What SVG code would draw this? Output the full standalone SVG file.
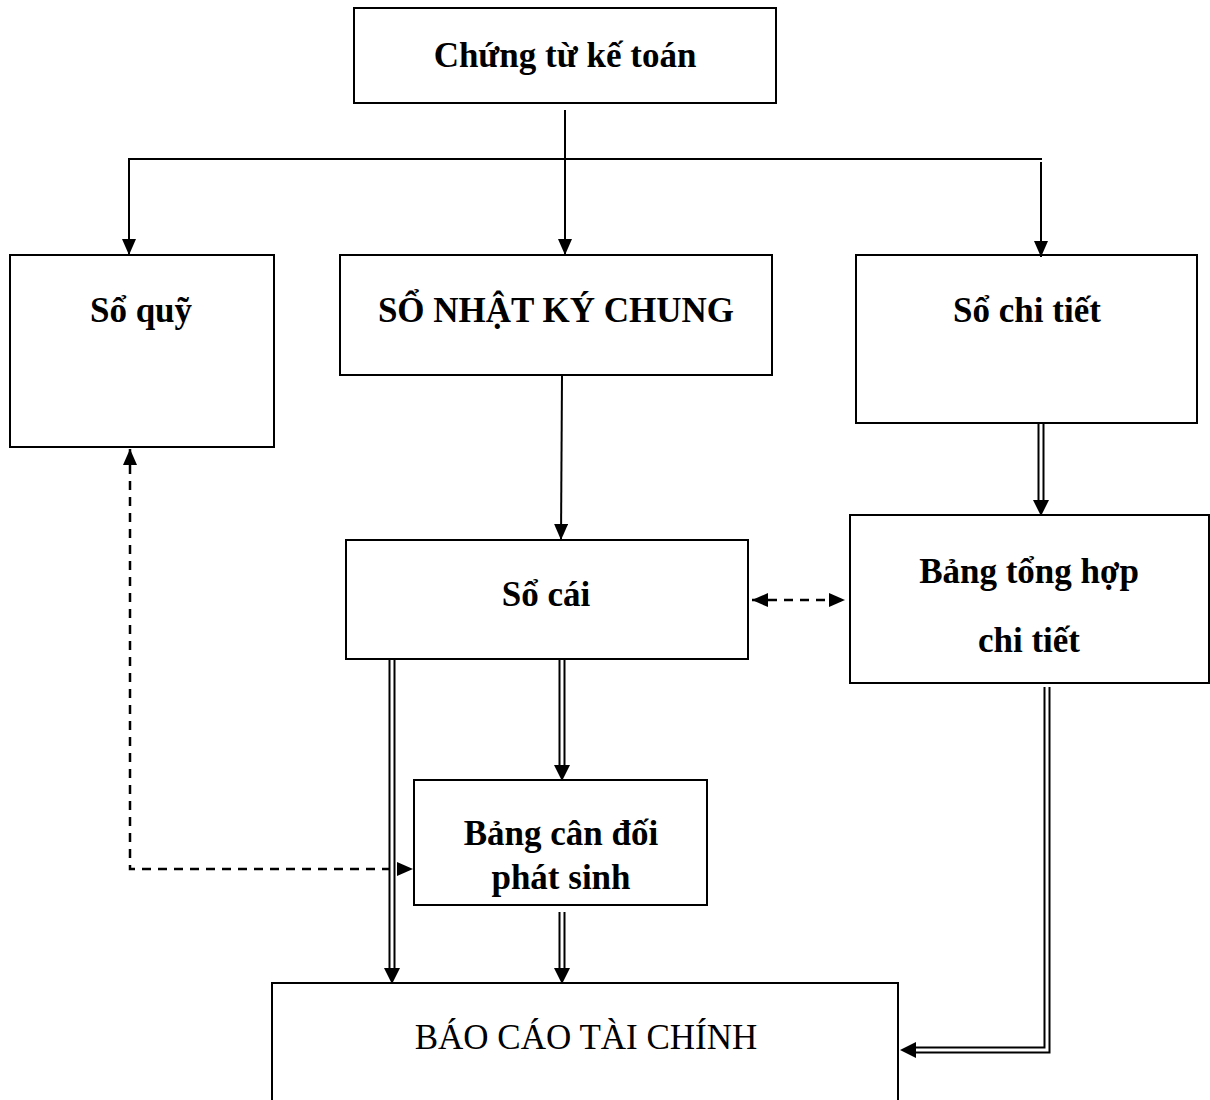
<svg xmlns="http://www.w3.org/2000/svg" width="1210" height="1100" viewBox="0 0 1210 1100">
<defs>
<style>
.box{fill:#fff;stroke:#000;stroke-width:2}
.t{font-family:"Liberation Serif","Times New Roman",serif;font-size:35px;font-weight:bold;text-anchor:middle;fill:#000}
.tn{font-family:"Liberation Serif","Times New Roman",serif;font-size:35px;text-anchor:middle;fill:#000}
.ln{fill:none;stroke:#000;stroke-width:2}
.dash{fill:none;stroke:#000;stroke-width:2.5;stroke-dasharray:9,7}
.dbo{fill:none;stroke:#000;stroke-width:7;stroke-linejoin:miter}
.dbi{fill:none;stroke:#fff;stroke-width:3;stroke-linejoin:miter}
.ah{fill:#000}
</style>
<marker id="arr" markerUnits="userSpaceOnUse" markerWidth="16" markerHeight="14" viewBox="0 0 16 14" refX="16" refY="7" orient="auto-start-reverse">
<path d="M0,0 L16,7 L0,14 z" fill="#000"/>
</marker>
</defs>
<rect width="1210" height="1100" fill="#fff"/>

<g id="n-chungtu"><rect class="box" x="354" y="8" width="422" height="95"/><text class="t" x="565" y="67">Chứng từ kế toán</text></g>
<g id="n-soquy"><rect class="box" x="10" y="255" width="264" height="192"/><text class="t" x="141" y="322">Sổ quỹ</text></g>
<g id="n-nkc"><rect class="box" x="340" y="255" width="432" height="120"/><text class="t" x="556" y="322">SỔ NHẬT KÝ CHUNG</text></g>
<g id="n-sochitiet"><rect class="box" x="856" y="255" width="341" height="168"/><text class="t" x="1027" y="322">Sổ chi tiết</text></g>
<g id="n-socai"><rect class="box" x="346" y="540" width="402" height="119"/><text class="t" x="546" y="606">Sổ cái</text></g>
<g id="n-bangtonghop"><rect class="box" x="850" y="515" width="359" height="168"/><text class="t" x="1029" y="583">Bảng tổng hợp</text><text class="t" x="1029" y="652">chi tiết</text></g>
<g id="n-bangcandoi"><rect class="box" x="414" y="780" width="293" height="125"/><text class="t" x="561" y="845">Bảng cân đối</text><text class="t" x="561" y="889">phát sinh</text></g>
<g id="n-baocao"><rect class="box" x="272" y="983" width="626" height="130"/><text class="tn" x="586" y="1049">BÁO CÁO TÀI CHÍNH</text></g>

<g id="connectors">
<line class="ln" x1="565" y1="110" x2="565" y2="255" marker-end="url(#arr)"/>
<polyline class="ln" points="129,255 129,159 1042,159"/>
<line class="ln" x1="129" y1="200" x2="129" y2="255" marker-end="url(#arr)"/>
<line class="ln" x1="1041" y1="162" x2="1041" y2="257" marker-end="url(#arr)"/>
<line class="ln" x1="562" y1="375" x2="561" y2="540" marker-end="url(#arr)"/>
<line class="dash" x1="752" y1="600" x2="845" y2="600" marker-start="url(#arr)" marker-end="url(#arr)"/>
<polyline class="dash" points="130,449 130,869 413,869" marker-start="url(#arr)" marker-end="url(#arr)"/>

<g id="dbl-chitiet-tonghop"><line class="dbo" x1="1041" y1="424" x2="1041" y2="502"/><line class="dbi" x1="1041" y1="424" x2="1041" y2="503"/><polygon class="ah" points="1033,500 1049,500 1041,516"/></g>
<g id="dbl-socai-baocao"><line class="dbo" x1="392" y1="660" x2="392" y2="970"/><line class="dbi" x1="392" y1="660" x2="392" y2="971"/><polygon class="ah" points="384,968 400,968 392,984"/></g>
<g id="dbl-socai-candoi"><line class="dbo" x1="562" y1="660" x2="562" y2="767"/><line class="dbi" x1="562" y1="660" x2="562" y2="768"/><polygon class="ah" points="554,765 570,765 562,781"/></g>
<g id="dbl-candoi-baocao"><line class="dbo" x1="562" y1="912" x2="562" y2="970"/><line class="dbi" x1="562" y1="912" x2="562" y2="971"/><polygon class="ah" points="554,968 570,968 562,984"/></g>
<g id="dbl-tonghop-baocao"><polyline class="dbo" points="1047,687 1047,1050 913,1050"/><polyline class="dbi" points="1047,687 1047,1050 912,1050"/><polygon class="ah" points="916,1042 916,1058 900,1050"/></g>
</g>
</svg>
